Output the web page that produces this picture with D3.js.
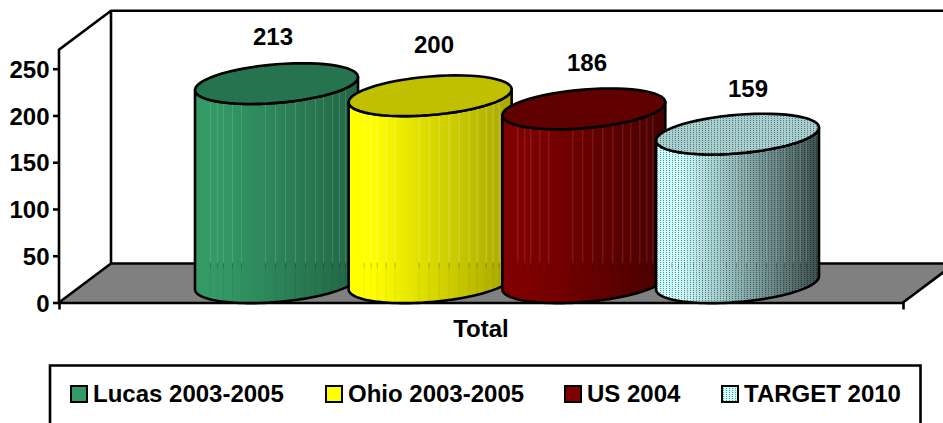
<!DOCTYPE html>
<html><head><meta charset="utf-8">
<script src="https://cdn.jsdelivr.net/npm/d3@7"></script>
<style>
html,body{margin:0;padding:0;background:#fff;overflow:hidden}
svg{display:block}
text{font-family:"Liberation Sans",Arial,sans-serif;font-weight:700;fill:#000}
</style></head><body>
<svg id="c" width="943" height="423"></svg>
<script>
const categories = ["Total"];
const seriesNames = ["Lucas 2003-2005","Ohio 2003-2005","US 2004","TARGET 2010"];
const seriesValues = [213,200,186,159];
const baseColors = ["#339966","#ffff00","#800000","#ccffff"];
const topColors = ["#267350","#c0c000","#600000","#a8d0d0"];
const endColors = ["#226645","#a6a600","#480000","#3c5050"];
const yTicks = [0,50,100,150,200,250];

const svg = d3.select("#c");
const W = 943, H = 423;
const y = d3.scaleLinear().domain([0,250]).range([302.5,68.7]);
const x = d3.scaleBand().domain(categories).range([59,903]);
const cx = d3.scalePoint().domain(seriesNames).range([276.5,737.5]);
const depth = {dx:52, dy:-39};
const plotTop = 49.7;
const A = 81.5, B = 19.3, K = -6.5, LIFT = 19.7;
const SW = 2.6;

const defs = svg.append("defs");
const dots = defs.append("pattern").attr("id","dots").attr("patternUnits","userSpaceOnUse")
  .attr("width",3).attr("height",2);
dots.append("rect").attr("width",1).attr("height",1).attr("fill","#000").attr("opacity",.45);

// walls and floor
const x0 = x.range()[0], x1 = x.range()[1], y0 = y(0);
svg.append("path")
  .attr("d",`M${x0},${y0}L${x0+depth.dx},${y0+depth.dy}L${W+2},${y0+depth.dy}L${W+2},${y0-(W+2-x1)*.75}L${x1},${y0}Z`)
  .attr("fill","#808080");
svg.append("path")
  .attr("d",`M${x0},${y0}L${x0},${plotTop}L${x0+depth.dx},${plotTop+depth.dy}L${W+2},${plotTop+depth.dy}`
    +`M${x0+depth.dx},${plotTop+depth.dy}L${x0+depth.dx},${y0+depth.dy}L${W+2},${y0+depth.dy}`
    +`M${x0+depth.dx},${y0+depth.dy}L${x0},${y0}M${x1},${y0}L${W+2},${y0-(W+2-x1)*.75}`)
  .attr("fill","none").attr("stroke","#000").attr("stroke-width",SW);

// y axis
const yAxis = svg.append("g").attr("transform",`translate(${x0},0)`)
  .call(d3.axisLeft(y).tickValues(yTicks).tickFormat(d3.format("d")).tickSize(6).tickPadding(3.5));
yAxis.select(".domain").remove();
yAxis.selectAll("line").attr("stroke","#000").attr("stroke-width",SW);
yAxis.selectAll("text").style("font-size","24px").attr("dy",".36em");

// x axis
const xAxis = svg.append("g").attr("transform",`translate(0,${y0})`)
  .call(d3.axisBottom(x).tickSizeInner(0).tickSizeOuter(7).tickPadding(17));
xAxis.select(".domain").attr("stroke","#000").attr("stroke-width",SW);
xAxis.selectAll(".tick line").remove();
xAxis.selectAll("text").style("font-size","24px").attr("dy","0.71em");

// cylinders
const stripeOffsets = [15,22,28,37,46,70,80,90,100,110,120,128,137,144,150];
const labelDx = [-3.5,3.8,3.2,10.5];
const labelDy = [66.5,71,65.7,65];
const ell = (c,m,t)=>[c+A*Math.cos(t), m+B*Math.sin(t)+K*Math.cos(t)];
const arc = (c,m,a,b)=>d3.range(0,61).map(i=>ell(c,m,a+(b-a)*i/60));
const line = d3.line();

seriesNames.forEach((name,i)=>{
  const c = cx(name), v = seriesValues[i];
  const mTop = y(v)-LIFT, mBase = y(0)-LIFT;
  const gid = "g"+i;
  const gr = defs.append("linearGradient").attr("id",gid);
  gr.append("stop").attr("offset","0").attr("stop-color",baseColors[i]);
  gr.append("stop").attr("offset",".14").attr("stop-color",baseColors[i]);
  gr.append("stop").attr("offset","1").attr("stop-color",endColors[i]);
  const front = arc(c,mTop,Math.PI,0), bottom = arc(c,mBase,0,Math.PI);
  const bodyD = line(front.concat(bottom))+"Z";
  defs.append("clipPath").attr("id","clip"+i).append("path").attr("d",bodyD);
  const g = svg.append("g").attr("class","cyl");
  g.append("path").attr("d",bodyD).attr("fill",`url(#${gid})`);
  const sg = g.append("g").attr("clip-path",`url(#clip${i})`);
  stripeOffsets.forEach(o=>{
    const sx = c-A+o+.5, wallY = y0+depth.dy;
    sg.append("line").attr("x1",sx).attr("x2",sx).attr("y1",mTop-30).attr("y2",wallY)
      .attr("stroke","#fff").attr("stroke-opacity",i===1?.25:.14);
    sg.append("line").attr("x1",sx).attr("x2",sx).attr("y1",wallY).attr("y2",y0+2)
      .attr("stroke","#000").attr("stroke-opacity",.06);
    sg.append("line").attr("x1",sx).attr("x2",sx).attr("y1",wallY-1).attr("y2",wallY+4)
      .attr("stroke","#000").attr("stroke-opacity",.2);
  });
  if(i===3) g.append("path").attr("d",bodyD).attr("fill","url(#dots)");
  g.append("path").attr("d",bodyD).attr("fill","none").attr("stroke","#000").attr("stroke-width",SW).attr("stroke-linejoin","round");
  const topD = line(arc(c,mTop,0,2*Math.PI))+"Z";
  g.append("path").attr("d",topD).attr("fill",topColors[i]);
  if(i===3) g.append("path").attr("d",topD).attr("fill","url(#dots)");
  g.append("path").attr("d",topD).attr("fill","none").attr("stroke","#000").attr("stroke-width",SW);
  svg.append("text").attr("x",c+labelDx[i]).attr("y",y(v)-labelDy[i]).attr("dy",".36em")
    .attr("text-anchor","middle").style("font-size","24px").text(v);
});

// legend
const lg = svg.append("g");
lg.append("path").attr("d",`M50,${H+3}V365.5H920.5V${H+3}`).attr("fill","none").attr("stroke","#000").attr("stroke-width",SW);
const legendX = d3.scaleOrdinal().domain(seriesNames).range([71,326,565,722]);
seriesNames.forEach((name,i)=>{
  const lx = legendX(name);
  lg.append("rect").attr("x",lx).attr("y",386).attr("width",16).attr("height",16)
    .attr("fill",baseColors[i]).attr("stroke","#000").attr("stroke-width",2);
  if(i===3) lg.append("rect").attr("x",lx).attr("y",386).attr("width",16).attr("height",16).attr("fill","url(#dots)");
  lg.append("text").attr("x",lx+22).attr("y",402).style("font-size","24px").text(name);
});
</script>
</body></html>
